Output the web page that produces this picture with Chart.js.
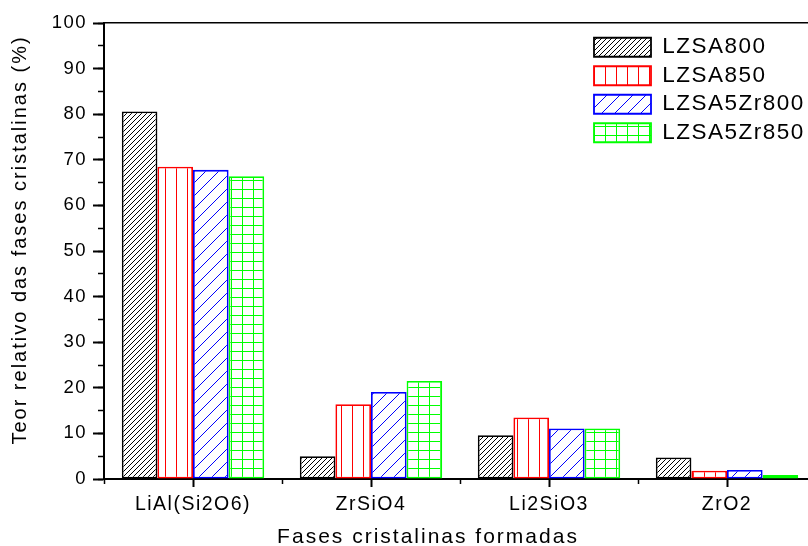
<!DOCTYPE html>
<html>
<head>
<meta charset="utf-8">
<script src="https://cdn.jsdelivr.net/npm/chart.js@4"></script>
<style>
  html, body { margin: 0; padding: 0; background: #fff; overflow: hidden; }
  #wrap { position: absolute; left: 0; top: 0; width: 816px; height: 546px; }
</style>
</head>
<body>
<div id="wrap"><canvas id="c"></canvas></div>
<script>
// ---- data ----
const categories = ['LiAl(Si2O6)', 'ZrSiO4', 'Li2SiO3', 'ZrO2'];
const seriesNames = ['LZSA800', 'LZSA850', 'LZSA5Zr800', 'LZSA5Zr850'];
const lzsa800    = [80.6, 5.0, 9.6, 4.7];
const lzsa850    = [68.5, 16.4, 13.5, 1.8];
const lzsa5zr800 = [67.8, 19.1, 11.1, 2.0];
const lzsa5zr850 = [66.4, 21.5, 11.1, 0.9];
const xTitle = 'Fases cristalinas formadas';
const yTitle = 'Teor relativo das fases cristalinas (%)';

// ---- hatch patterns ----
function makePattern(w, h, color, drawFn) {
  const c = document.createElement('canvas');
  c.width = w; c.height = h;
  const g = c.getContext('2d');
  g.fillStyle = '#ffffff';
  g.fillRect(0, 0, w, h);
  g.strokeStyle = color;
  g.lineWidth = 1;
  drawFn(g, w, h);
  return g.createPattern(c, 'repeat');
}
function diag(g, w, h) {
  g.beginPath();
  for (let k = -1; k <= 1; k++) {
    g.moveTo(k * w, h);
    g.lineTo(k * w + w, 0);
  }
  g.stroke();
}
function vert(g, w, h) {
  g.beginPath(); g.moveTo(0.5, 0); g.lineTo(0.5, h); g.stroke();
}
function grid(g, w, h) {
  g.beginPath();
  g.moveTo(0.5, 0); g.lineTo(0.5, h);
  g.moveTo(0, 0.5); g.lineTo(w, 0.5);
  g.stroke();
}
const patBlack = makePattern(5, 5, '#000000', diag);
const patRed   = makePattern(11, 4, '#ff0000', vert);
const patBlue  = makePattern(13, 13, '#0000ff', diag);
const patGreen = makePattern(11, 9, '#00ff00', grid);

const FAMILY = "'Liberation Sans', Arial, sans-serif";
Chart.defaults.font.family = FAMILY;
Chart.defaults.color = '#000000';

const spacing = '1.5px';
const spacingPlugin = {
  id: 'spacing',
  beforeInit(chart) { chart.ctx.letterSpacing = spacing; },
  beforeUpdate(chart) { chart.ctx.letterSpacing = spacing; },
  beforeLayout(chart) { chart.ctx.letterSpacing = spacing; },
  beforeDraw(chart) { chart.ctx.letterSpacing = spacing; },
  afterLayout(chart) {
    const ca = chart.chartArea;
    if (chart.legend) {
      chart.legend.left = ca.left + 484;
      chart.legend.top = ca.top + 7;
    }
  },
  afterDraw(chart) {
    const ctx = chart.ctx;
    const ca = chart.chartArea;
    ctx.save();
    ctx.letterSpacing = '2px';
    ctx.fillStyle = '#000';
    ctx.textAlign = 'center';
    ctx.textBaseline = 'middle';
    ctx.font = "21px " + FAMILY;
    ctx.fillText(xTitle, ca.left + 324, ca.bottom + 58);
    ctx.translate(20, ca.top + 217);
    ctx.rotate(-Math.PI / 2);
    ctx.font = "20px " + FAMILY;
    ctx.fillText(yTitle, 0, 0);
    ctx.restore();
  }
};

const colors = ['#000000', '#ff0000', '#0000ff', '#00ff00'];
const pats = [patBlack, patRed, patBlue, patGreen];
const values = [lzsa800, lzsa850, lzsa5zr800, lzsa5zr850];

new Chart(document.getElementById('c'), {
  type: 'bar',
  data: {
    labels: categories,
    datasets: seriesNames.map((n, i) => ({
      label: n,
      data: values[i],
      backgroundColor: pats[i],
      borderColor: colors[i],
      borderWidth: 1.8,
      borderSkipped: false,
      categoryPercentage: 0.8,
      barPercentage: 1.0,
      xAxisID: 'x',
      yAxisID: 'y'
    }))
  },
  options: {
    responsive: true,
    maintainAspectRatio: false,
    animation: false,
    layout: { padding: { top: 23, left: 0, right: 0, bottom: 0 } },
    plugins: {
      tooltip: { enabled: false },
      title: { display: false },
      legend: {
        position: 'chartArea',
        align: 'start',
        labels: {
          boxWidth: 57,
          boxHeight: 19,
          padding: 6,
          color: '#000',
          font: { size: 22.5 }
        }
      }
    },
    scales: {
      x: {
        type: 'category',
        position: 'bottom',
        weight: 1,
        offset: true,
        grid: { drawOnChartArea: false, offset: false, tickLength: 8, tickWidth: 2, tickColor: '#000' },
        border: { display: true, color: '#000', width: 2 },
        ticks: { font: { size: 19.5 }, color: '#000', padding: 6, maxRotation: 0 },
        afterFit(s) { s.height = 67; }
      },
      x2: {
        type: 'category',
        labels: categories,
        position: 'bottom',
        weight: 0,
        offset: true,
        grid: { drawOnChartArea: false, offset: true, tickLength: 5, tickWidth: 1.5, tickColor: '#000' },
        border: { display: false },
        ticks: { display: false },
        afterFit(s) { s.height = 0; }
      },
      xTop: {
        type: 'category',
        labels: categories,
        position: 'top',
        offset: true,
        grid: { drawOnChartArea: false, drawTicks: false },
        border: { display: true, color: '#000', width: 1.5 },
        ticks: { display: false },
        afterFit(s) { s.height = 0; }
      },
      y: {
        type: 'linear',
        position: 'left',
        weight: 1,
        min: 0,
        max: 100,
        ticks: { stepSize: 10, font: { size: 18.5 }, color: '#000', padding: 6 },
        grid: { drawOnChartArea: false, tickLength: 11, tickWidth: 2, tickColor: '#000' },
        border: { display: true, color: '#000', width: 2 },
        afterFit(s) { s.width = 104; }
      },
      y2: {
        type: 'linear',
        position: 'left',
        weight: 0,
        min: 0,
        max: 100,
        ticks: { stepSize: 5, display: false },
        grid: { drawOnChartArea: false, tickLength: 6, tickWidth: 1.5, tickColor: '#000' },
        border: { display: false },
        afterFit(s) { s.width = 0; }
      }
    }
  },
  plugins: [spacingPlugin]
});
</script>
</body>
</html>
